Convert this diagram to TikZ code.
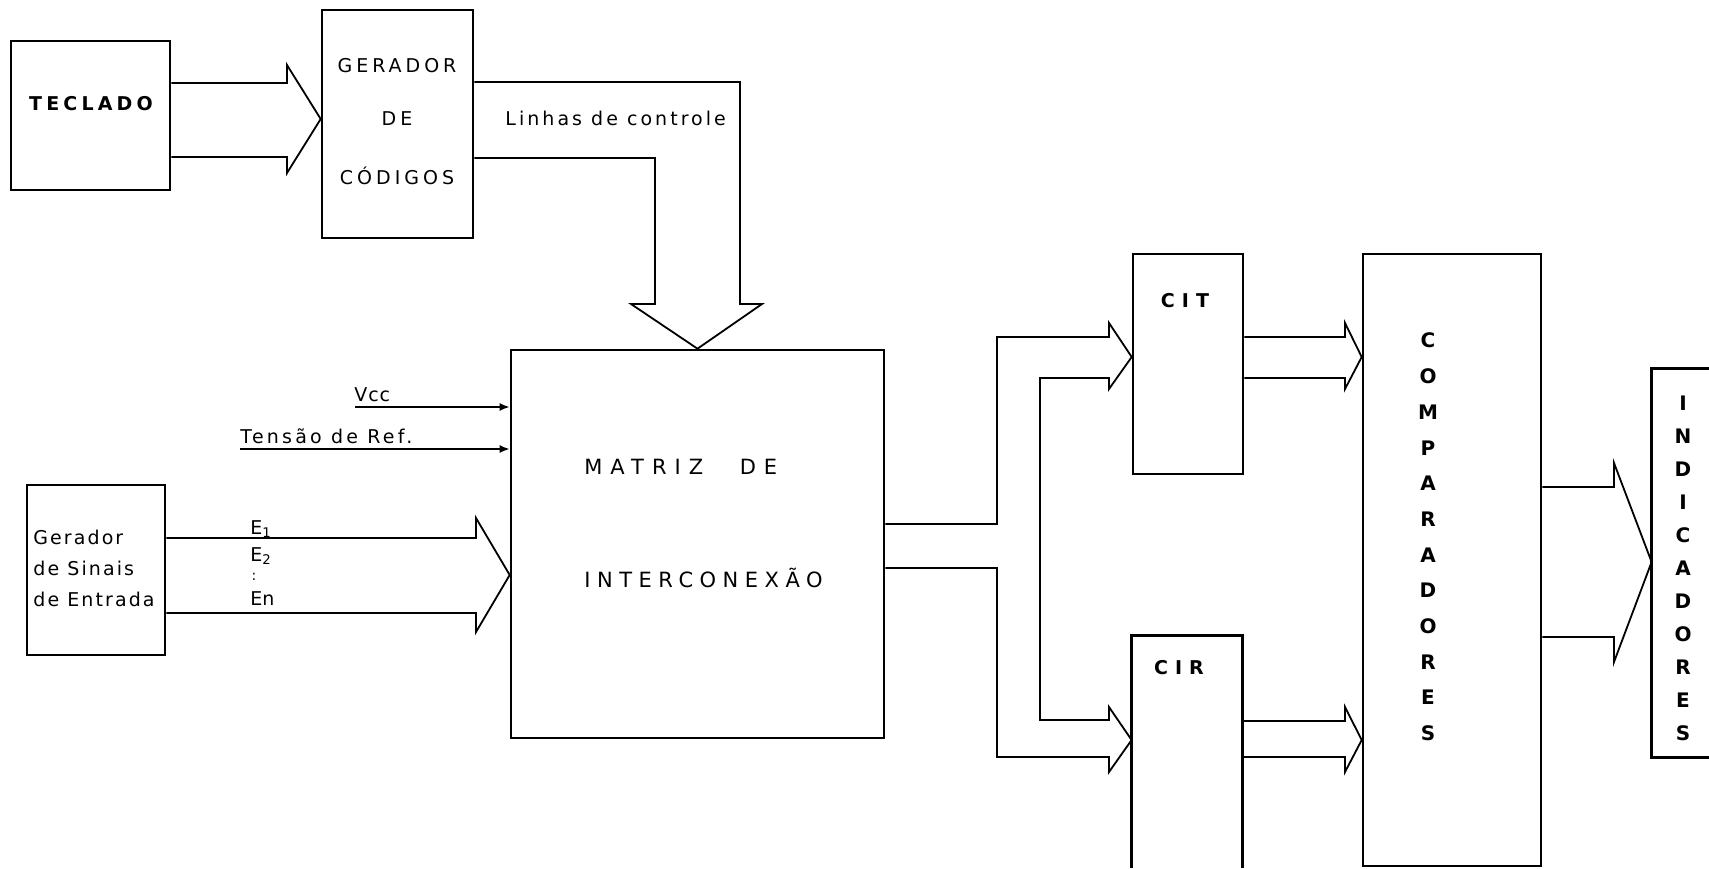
\documentclass[tikz,border=0pt]{standalone}
\usepackage{fontspec}
\setmainfont{DejaVu Sans}
\usetikzlibrary{fit,arrows.meta}
\begin{document}
\begin{tikzpicture}[x=0.5pt,y=-0.5pt,
  blk/.style={draw, line width=1.3pt, inner sep=0pt},
  frame/.style={inner sep=0pt},
  bline/.style={line width=1.3pt},
  conn/.style={line width=0.9pt, line join=miter},
  sig/.style={line width=0.9pt, -{Latex[length=5pt,width=4pt]}},
  lab/.style={inner sep=0pt, anchor=base},
  labw/.style={inner sep=0pt, anchor=base west},
  capfont/.style={font=\fontsize{9.5pt}{11pt}\selectfont\addfontfeature{LetterSpace=21}},
  boldcap/.style={font=\fontsize{9.5pt}{11pt}\selectfont\bfseries\addfontfeature{LetterSpace=#1}},
  bigcap/.style={font=\fontsize{10.5pt}{12pt}\selectfont\addfontfeature{LetterSpace=#1}},
  small/.style={font=\fontsize{9.5pt}{11pt}\selectfont\addfontfeature{LetterSpace=#1}},
]
\useasboundingbox (0,0) rectangle (1709,868);

% ---------- blocks ----------
\node[blk, fit={(11,41) (170,190)}] (teclado) {};
\node[blk, fit={(322,10) (473,238)}] (gerador) {};
\node[blk, fit={(511,350) (884,738)}] (matriz) {};
\node[blk, fit={(27,485) (165,655)}] (gsinais) {};
\node[blk, fit={(1133,254) (1243,474)}] (cit) {};
\node[frame, fit={(1132,636) (1242,868)}] (cir) {};
\draw[bline] (cir.south west) -- (cir.north west) -- (cir.north east) -- (cir.south east);
\node[blk, fit={(1363,254) (1541,866)}] (comp) {};
\node[frame, fit={(1652,369) (1709,757)}] (ind) {};
\draw[bline] (ind.north east) -- (ind.north west) -- (ind.south west) -- (ind.south east);

% ---------- texts ----------
\node[lab, boldcap=22] (tTec) at (91,110) {TECLADO};
\node[lab, capfont] (tGer1) at (397,72) {GERADOR};
\node[lab, capfont] (tGer2) at (397,125) {DE};
\node[lab, capfont] (tGer3) at (397,184) {CÓDIGOS};
\node[labw, small=16] (tLin) at (505,125) {Linhas de controle};
\node[labw, bigcap=38] (tMat1) at (584,474) {MATRIZ\hspace{11pt} D\hspace{4pt}E};
\node[labw, bigcap=31] (tMat2) at (584,587) {INTERCONEXÃO};
\node[labw, small=5] (tVcc) at (354,401) {Vcc};
\node[labw, small=17] (tRef) at (240,443) {Tensão de Ref.};
\node[labw, small=0] (tE1) at (250,534) {E\textsubscript{1}};
\node[labw, small=0] (tE2) at (250,561) {E\textsubscript{2}};
\node[inner sep=0pt, font=\fontsize{7pt}{8pt}\selectfont] (tEd) at (254,577) {:};
\node[labw, small=0] (tEn) at (250,605) {En};
\node[labw, small=11] (tGs1) at (33,544) {Gerador};
\node[labw, small=11] (tGs2) at (33,575) {de Sinais};
\node[labw, small=11] (tGs3) at (33,606) {de Entrada};
\node[lab, boldcap=37] (tCit) at (1185,307) {CIT};
\node[lab, boldcap=37] (tCir) at (1179,674) {CIR};
\node[inner sep=0pt, align=center, font=\fontsize{10pt}{17.85pt}\selectfont\bfseries] (tComp) at (1428,537)
  {C\\O\\M\\P\\A\\R\\A\\D\\O\\R\\E\\S};
\node[inner sep=0pt, align=center, font=\fontsize{10pt}{16.5pt}\selectfont\bfseries] (tInd) at (1683,568)
  {I\\N\\D\\I\\C\\A\\D\\O\\R\\E\\S};

% ---------- connectors ----------
% TECLADO -> GERADOR
\draw[conn] (teclado.east |- 0,83) -- (287,83) -- (287,65) -- (gerador.west |- 0,119)
  -- (287,173) -- (287,157) -- (teclado.east |- 0,157);
% Linhas de controle -> MATRIZ
\draw[conn] (gerador.east |- 0,82) -- (740,82) -- (740,304) -- (762,304) -- (matriz.north)
  -- (631,304) -- (655,304) -- (655,158) -- (gerador.east |- 0,158);
% Vcc, Tensao de Ref.
\coordinate (vccS) at (355,407);
\coordinate (refS) at (240,449);
\draw[sig] (vccS) -- (matriz.west |- vccS);
\draw[sig] (refS) -- (matriz.west |- refS);
% Gerador de Sinais -> MATRIZ
\draw[conn] (gsinais.east |- 0,538) -- (476,538) -- (476,518) -- (matriz.west |- 0,575)
  -- (476,632) -- (476,613) -- (gsinais.east |- 0,613);
% MATRIZ -> CIT / CIR
\draw[conn] (matriz.east |- 0,524) -- (997,524) -- (997,337) -- (1109,337) -- (1109,323)
  -- (cit.west |- 0,357) -- (1109,389) -- (1109,378) -- (1040,378) -- (1040,720)
  -- (1109,720) -- (1109,707) -- (cir.west |- 0,740) -- (1109,772) -- (1109,757)
  -- (997,757) -- (997,568) -- (matriz.east |- 0,568);
% CIT -> COMPARADORES
\draw[conn] (cit.east |- 0,337) -- (1345,337) -- (1345,323) -- (comp.west |- 0,357)
  -- (1345,389) -- (1345,378) -- (cit.east |- 0,378);
% CIR -> COMPARADORES
\draw[conn] (cir.east |- 0,721) -- (1345,721) -- (1345,707) -- (comp.west |- 0,740)
  -- (1345,772) -- (1345,757) -- (cir.east |- 0,757);
% COMPARADORES -> INDICADORES
\draw[conn] (comp.east |- 0,487) -- (1614,487) -- (1614,463) -- (ind.west |- 0,562)
  -- (1614,662) -- (1614,637) -- (comp.east |- 0,637);
\end{tikzpicture}
\end{document}
